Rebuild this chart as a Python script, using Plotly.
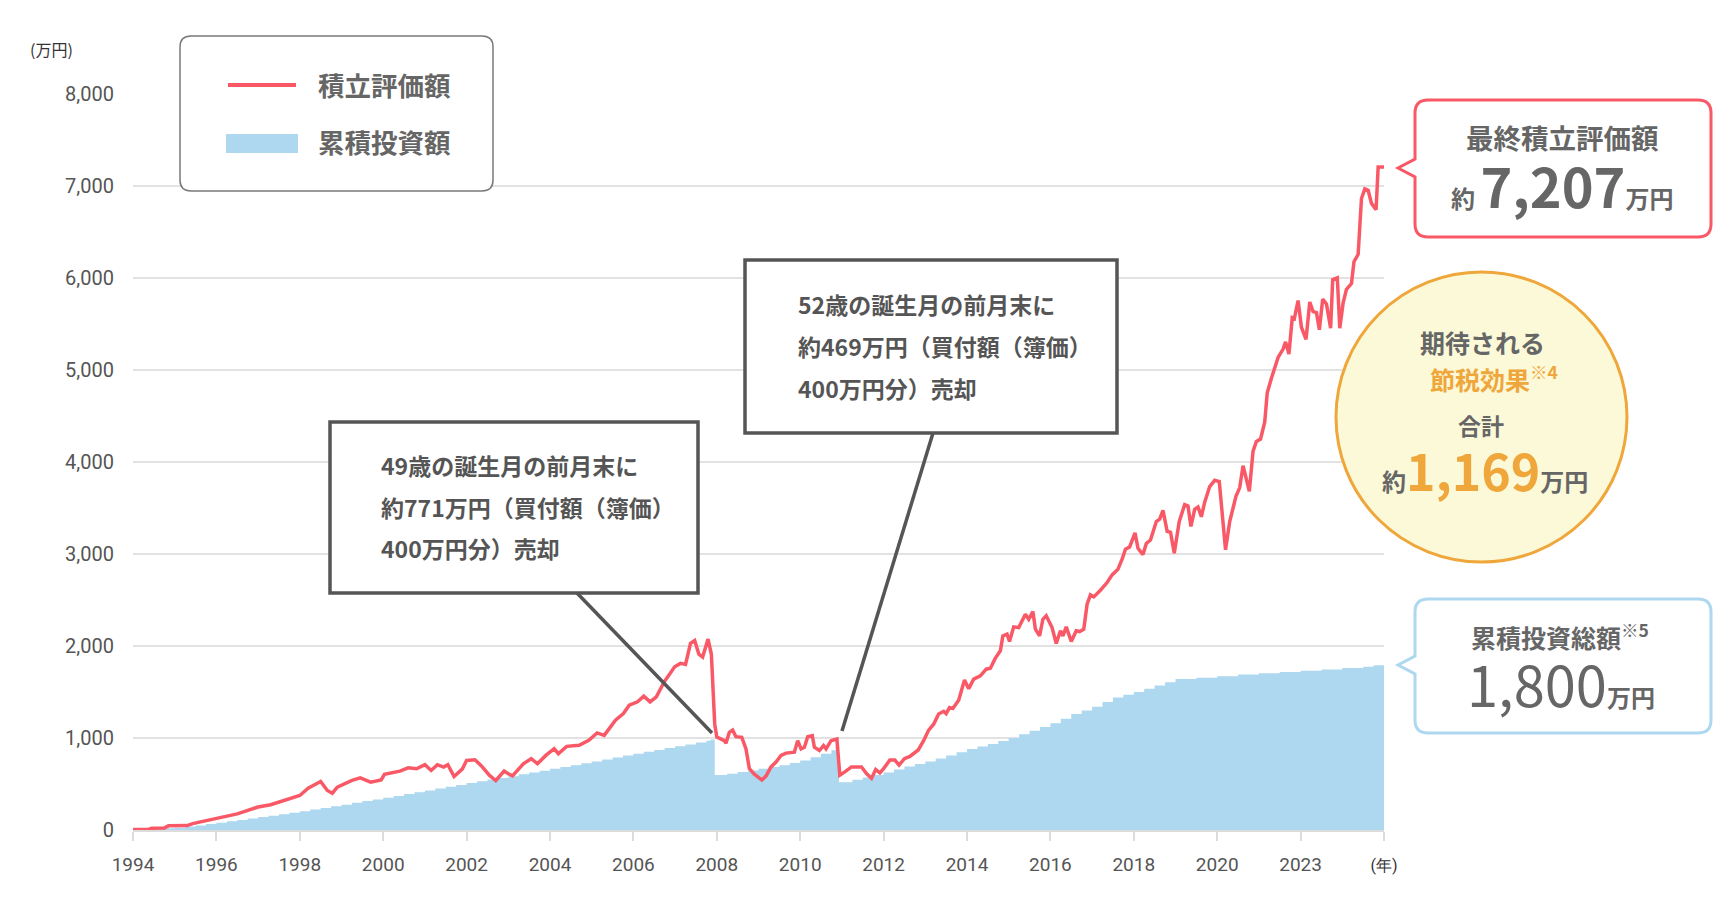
import plotly.graph_objects as go

# ---------------- data (万円) ----------------
value_years = [
    1994.0, 1994.35, 1994.45, 1994.75, 1994.85, 1995.3, 1995.43, 1995.72, 1996.0, 1996.2,
    1996.5, 1996.7, 1997.0, 1997.3, 1997.6, 1998.0, 1998.2, 1998.5, 1998.66, 1998.78,
    1998.9, 1999.05, 1999.25, 1999.45, 1999.7, 1999.95, 2000.03, 2000.4, 2000.6, 2000.8,
    2001.0, 2001.15, 2001.3, 2001.45, 2001.55, 2001.7, 2001.9, 2002.0, 2002.2, 2002.35,
    2002.55, 2002.7, 2002.9, 2003.0, 2003.1, 2003.36, 2003.55, 2003.7, 2003.9, 2004.1,
    2004.2, 2004.4, 2004.7, 2004.93, 2005.13, 2005.3, 2005.57, 2005.76, 2005.9, 2006.1,
    2006.25, 2006.4, 2006.55, 2006.74, 2006.99, 2007.13, 2007.25, 2007.37, 2007.47, 2007.57,
    2007.66, 2007.79, 2007.87, 2007.95, 2008.0, 2008.18, 2008.22, 2008.3, 2008.38, 2008.46,
    2008.6, 2008.7, 2008.78, 2008.9, 2009.08, 2009.18, 2009.3, 2009.42, 2009.54, 2009.66,
    2009.86, 2009.94, 2010.02, 2010.1, 2010.18, 2010.29, 2010.34, 2010.46, 2010.56, 2010.62,
    2010.74, 2010.88, 2010.95, 2011.07, 2011.23, 2011.35, 2011.47, 2011.59, 2011.71, 2011.81,
    2011.91, 2012.0, 2012.15, 2012.27, 2012.37, 2012.5, 2012.63, 2012.83, 2012.96, 2013.08,
    2013.2, 2013.32, 2013.44, 2013.5, 2013.58, 2013.66, 2013.8, 2013.94, 2014.04, 2014.16,
    2014.32, 2014.46, 2014.56, 2014.68, 2014.8, 2014.86, 2014.96, 2015.02, 2015.12, 2015.24,
    2015.4, 2015.48, 2015.58, 2015.64, 2015.74, 2015.82, 2015.9, 2016.04, 2016.14, 2016.24,
    2016.3, 2016.38, 2016.5, 2016.62, 2016.7, 2016.8, 2016.88, 2016.96, 2017.04, 2017.2,
    2017.36, 2017.48, 2017.62, 2017.72, 2017.8, 2017.9, 2017.96, 2018.03, 2018.1, 2018.22,
    2018.3, 2018.4, 2018.54, 2018.62, 2018.7, 2018.8, 2018.88, 2018.97, 2019.09, 2019.22,
    2019.3, 2019.37, 2019.46, 2019.54, 2019.62, 2019.7, 2019.82, 2019.94, 2020.05, 2020.2,
    2020.3, 2020.45, 2020.54, 2020.62, 2020.77, 2020.86, 2020.94, 2021.04, 2021.14, 2021.2,
    2021.3, 2021.46, 2021.58, 2021.64, 2021.72, 2021.8, 2021.85, 2021.94, 2022.02, 2022.13,
    2022.22, 2022.3, 2022.38, 2022.45, 2022.53, 2022.62, 2022.72, 2022.77, 2022.88, 2022.94,
    2023.02, 2023.1, 2023.22, 2023.28, 2023.38, 2023.46, 2023.54, 2023.62, 2023.7, 2023.81,
    2023.86, 2024.0,
]
value_amounts = [
    5, 5, 20, 22, 45, 48, 70, 100, 120, 145,
    175, 205, 250, 275, 320, 375, 455, 527, 430, 400,
    465, 500, 540, 567, 520, 545, 605, 640, 676, 665,
    710, 647, 710, 684, 710, 582, 665, 756, 763, 700,
    593, 538, 640, 611, 589, 720, 775, 720, 811, 884,
    829, 909, 920, 975, 1055, 1029, 1193, 1265, 1356, 1393,
    1455, 1393, 1447, 1611, 1774, 1811, 1800, 2030, 2060, 1910,
    1880, 2075, 1910, 1150, 1010, 971, 943, 1061, 1086, 1014,
    1007, 882, 668, 607, 543, 586, 686, 739, 811, 836,
    846, 971, 882, 900, 1014, 1025, 900, 864, 918, 882,
    971, 989, 596, 632, 686, 686, 686, 614, 561, 657,
    621, 668, 760, 760, 705, 775, 800, 870, 970, 1086,
    1150, 1260, 1290, 1265, 1330, 1320, 1410, 1630, 1535, 1640,
    1676, 1748, 1759, 1868, 1948, 2110, 2129, 2049, 2208, 2201,
    2346, 2291, 2375, 2183, 2110, 2291, 2328, 2201, 2027, 2165,
    2110, 2208, 2049, 2165, 2157, 2183, 2454, 2556, 2534, 2606,
    2690, 2773, 2834, 2943, 3052, 3077, 3160, 3230, 3062, 2994,
    3115, 3152, 3353, 3379, 3474, 3247, 3236, 3009, 3353, 3537,
    3521, 3300, 3485, 3511, 3405, 3564, 3733, 3801, 3786, 3046,
    3353, 3627, 3722, 3960, 3680, 4118, 4224, 4250, 4435, 4752,
    4910, 5137, 5227, 5306, 5174, 5570, 5560, 5755, 5465, 5333,
    5739, 5634, 5623, 5438, 5771, 5718, 5454, 5982, 6003, 5454,
    5729, 5876, 5940, 6177, 6257, 6864, 6969, 6953, 6811, 6742,
    7207, 7207,
]

invest_years = [
    1994.0, 1994.25, 1994.5, 1994.75, 1995.0, 1995.25, 1995.5, 1995.75,
    1996.0, 1996.25, 1996.5, 1996.75, 1997.0, 1997.25, 1997.5, 1997.75,
    1998.0, 1998.25, 1998.5, 1998.75, 1999.0, 1999.25, 1999.5, 1999.75,
    2000.0, 2000.25, 2000.5, 2000.75, 2001.0, 2001.25, 2001.5, 2001.75,
    2002.0, 2002.25, 2002.5, 2002.75, 2003.0, 2003.25, 2003.5, 2003.75,
    2004.0, 2004.25, 2004.5, 2004.75, 2005.0, 2005.25, 2005.5, 2005.75,
    2006.0, 2006.25, 2006.5, 2006.75, 2007.0, 2007.25, 2007.5, 2007.75, 2007.85,
    2007.95, 2008.25, 2008.5, 2008.75, 2009.0, 2009.25, 2009.5, 2009.75,
    2010.0, 2010.25, 2010.5, 2010.75, 2010.85,
    2010.93, 2011.25, 2011.5, 2011.75, 2012.0, 2012.25, 2012.5, 2012.75,
    2013.0, 2013.25, 2013.5, 2013.75, 2014.0, 2014.25, 2014.5, 2014.75,
    2015.0, 2015.25, 2015.5, 2015.75, 2016.0, 2016.25, 2016.5, 2016.75,
    2017.0, 2017.25, 2017.5, 2017.75, 2018.0, 2018.25, 2018.5, 2018.75,
    2019.0, 2019.5, 2020.0, 2020.5, 2021.0, 2021.5, 2022.0, 2022.5,
    2023.0, 2023.5, 2023.75, 2024.0,
]
invest_amounts = [
    0, 5, 10, 18, 25, 38, 50, 65,
    80, 95, 110, 125, 140, 155, 170, 188,
    205, 222, 240, 258, 275, 295, 315, 332,
    350, 370, 390, 410, 430, 450, 470, 490,
    510, 530, 548, 566, 585, 605, 625, 645,
    665, 685, 705, 725, 745, 766, 788, 810,
    830, 850, 870, 890, 910, 930, 950, 970, 985,
    597, 612, 630, 648, 665, 685, 705, 728,
    755, 792, 830, 868, 905,
    518, 545, 570, 598, 625, 658, 690, 718,
    745, 778, 810, 845, 880, 908, 935, 968,
    1000, 1040, 1080, 1120, 1160, 1210, 1260, 1300,
    1340, 1390, 1440, 1470, 1500, 1535, 1570, 1605,
    1640, 1655, 1670, 1690, 1705, 1718, 1732, 1745,
    1760, 1775, 1790, 1800,
]

tick_years = [1994, 1996, 1998, 2000, 2002, 2004, 2006, 2008, 2010,
              2012, 2014, 2016, 2018, 2020, 2022, 2024]
tick_labels = ["1994", "1996", "1998", "2000", "2002", "2004", "2006", "2008", "2010",
               "2012", "2014", "2016", "2018", "2020", "2023",
               '<span style="font-size:16px;color:#333333">(年)</span>']
y_ticks = [0, 1000, 2000, 3000, 4000, 5000, 6000, 7000, 8000]

series_names = ["積立評価額", "累積投資額"]

# ---------------- styling ----------------
RED = "#F95967"
BLUE = "#ADD8F0"
ORANGE = "#EFA63A"
GRAY = "#666666"
DARK = "#555555"
JP = "Noto Sans CJK JP"

W, H = 1728, 920
PL, PR, PT, PB = 133, 1384, 94, 830


def fx(x):
    return (x - PL) / (PR - PL)


def fy(y):
    return (PB - y) / (PB - PT)


def rrect_path(x0, y0, x1, y1, r, notch=None):
    d = (f"M {fx(x0 + r)},{fy(y0)} L {fx(x1 - r)},{fy(y0)} "
         f"Q {fx(x1)},{fy(y0)} {fx(x1)},{fy(y0 + r)} L {fx(x1)},{fy(y1 - r)} "
         f"Q {fx(x1)},{fy(y1)} {fx(x1 - r)},{fy(y1)} L {fx(x0 + r)},{fy(y1)} "
         f"Q {fx(x0)},{fy(y1)} {fx(x0)},{fy(y1 - r)}")
    if notch:
        tx, ty, h = notch
        d += f" L {fx(x0)},{fy(ty + h)} L {fx(tx)},{fy(ty)} L {fx(x0)},{fy(ty - h)}"
    d += f" L {fx(x0)},{fy(y0 + r)} Q {fx(x0)},{fy(y0)} {fx(x0 + r)},{fy(y0)} Z"
    return d


fig = go.Figure()
fig.add_trace(go.Scatter(
    x=invest_years, y=invest_amounts, name=series_names[1], mode="lines",
    line=dict(width=0, shape="hv", color=BLUE), fill="tozeroy", fillcolor=BLUE,
    hoverinfo="skip", showlegend=False))
fig.add_trace(go.Scatter(
    x=value_years, y=value_amounts, name=series_names[0], mode="lines",
    line=dict(width=3.5, color=RED), showlegend=False))

shapes = []
annotations = []


def ann(text, x, y, size, color=GRAY, xanchor="center", yanchor="middle", bold=True):
    annotations.append(dict(
        text=(f"<b>{text}</b>" if bold else text), x=fx(x), y=fy(y), xref="paper", yref="paper",
        showarrow=False, xanchor=xanchor, yanchor=yanchor, align="left",
        font=dict(family=JP, size=size, color=color)))


# unit label
ann("(万円)", 51, 49, 16, color="#333333", bold=False)

# legend box
shapes.append(dict(type="path", path=rrect_path(180, 36, 493, 191, 11), xref="paper", yref="paper",
                   line=dict(color="#7a7a7a", width=1.5), fillcolor="white", layer="above"))
shapes.append(dict(type="line", x0=fx(228), x1=fx(296), y0=fy(85), y1=fy(85), xref="paper", yref="paper",
                   line=dict(color=RED, width=4), layer="above"))
shapes.append(dict(type="rect", x0=fx(226), x1=fx(298), y0=fy(134), y1=fy(153), xref="paper", yref="paper",
                   line=dict(width=0), fillcolor=BLUE, layer="above"))
ann(series_names[0], 316, 84, 26.5, xanchor="left")
ann(series_names[1], 316, 142, 26.5, xanchor="left")

# callout 1
shapes.append(dict(type="line", x0=fx(577), y0=fy(593), x1=fx(712), y1=fy(733), xref="paper", yref="paper",
                   line=dict(color=DARK, width=3.5), layer="above"))
shapes.append(dict(type="rect", x0=fx(330), x1=fx(698), y0=fy(422), y1=fy(593), xref="paper", yref="paper",
                   line=dict(color=DARK, width=3.5), fillcolor="white", layer="above"))
ann("49歳の誕生月の前月末に", 379, 465, 23, color=DARK, xanchor="left")
ann("約771万円（買付額（簿価）", 379, 507, 23, color=DARK, xanchor="left")
ann("400万円分）売却", 379, 548, 23, color=DARK, xanchor="left")

# callout 2
shapes.append(dict(type="line", x0=fx(933), y0=fy(433), x1=fx(842), y1=fy(731), xref="paper", yref="paper",
                   line=dict(color=DARK, width=3.5), layer="above"))
shapes.append(dict(type="rect", x0=fx(745), x1=fx(1117), y0=fy(260), y1=fy(433), xref="paper", yref="paper",
                   line=dict(color=DARK, width=3.5), fillcolor="white", layer="above"))
ann("52歳の誕生月の前月末に", 796, 304, 23, color=DARK, xanchor="left")
ann("約469万円（買付額（簿価）", 796, 346, 23, color=DARK, xanchor="left")
ann("400万円分）売却", 796, 388, 23, color=DARK, xanchor="left")

# final value box
shapes.append(dict(type="path", path=rrect_path(1415, 100, 1711, 237, 13, notch=(1398, 168, 9)),
                   xref="paper", yref="paper", line=dict(color=RED, width=3), fillcolor="white", layer="above"))
ann("最終積立評価額", 1562, 137, 27.5)
ann('約 <span style="font-size:54px">7,207</span>万円', 1562, 185, 24)

# tax-effect circle
shapes.append(dict(type="circle", x0=fx(1336), x1=fx(1627), y0=fy(272), y1=fy(562), xref="paper", yref="paper",
                   line=dict(color=ORANGE, width=3), fillcolor="#FBF9D8", layer="above"))
ann("期待される", 1482, 342, 25)
ann(f'<span style="color:{ORANGE}">節税効果</span><sup><span style="color:{ORANGE}">※4</span></sup>', 1494, 378, 25)
ann("合計", 1481, 425, 23)
ann(f'約<span style="font-size:50px;color:{ORANGE}">1,169</span>万円', 1485, 469, 24)

# invested total box
shapes.append(dict(type="path", path=rrect_path(1415, 599, 1711, 733, 13, notch=(1398, 665, 9)),
                   xref="paper", yref="paper", line=dict(color=BLUE, width=3), fillcolor="white", layer="above"))
ann("累積投資総額<sup>※5</sup>", 1560, 636, 25)
ann('<span style="font-size:56px">1,800</span><b>万円</b>', 1561, 682, 24, bold=False)

fig.update_layout(
    width=W, height=H, autosize=False,
    margin=dict(l=PL, r=W - PR, t=PT, b=H - PB),
    paper_bgcolor="white", plot_bgcolor="white",
    font=dict(family=JP, color=GRAY),
    shapes=shapes, annotations=annotations,
    xaxis=dict(range=[1994, 2024], tickvals=tick_years, ticktext=tick_labels,
               ticks="outside", ticklen=9, tickwidth=1.5, tickcolor="#dcdcdc",
               showline=True, linecolor="#dcdcdc", linewidth=2, showgrid=False, zeroline=False,
               tickfont=dict(family="Roboto", size=19, color="#555555"), ticklabelstandoff=7),
    yaxis=dict(range=[0, 8000], tickvals=y_ticks, tickformat=",d",
               showgrid=True, gridcolor="#e2e2e2", gridwidth=1.5, zeroline=False, showline=False,
               ticks="", tickfont=dict(family="Roboto", size=20, color="#555555"), ticklabelstandoff=18),
    showlegend=False,
)

fig.write_html("out.html")
